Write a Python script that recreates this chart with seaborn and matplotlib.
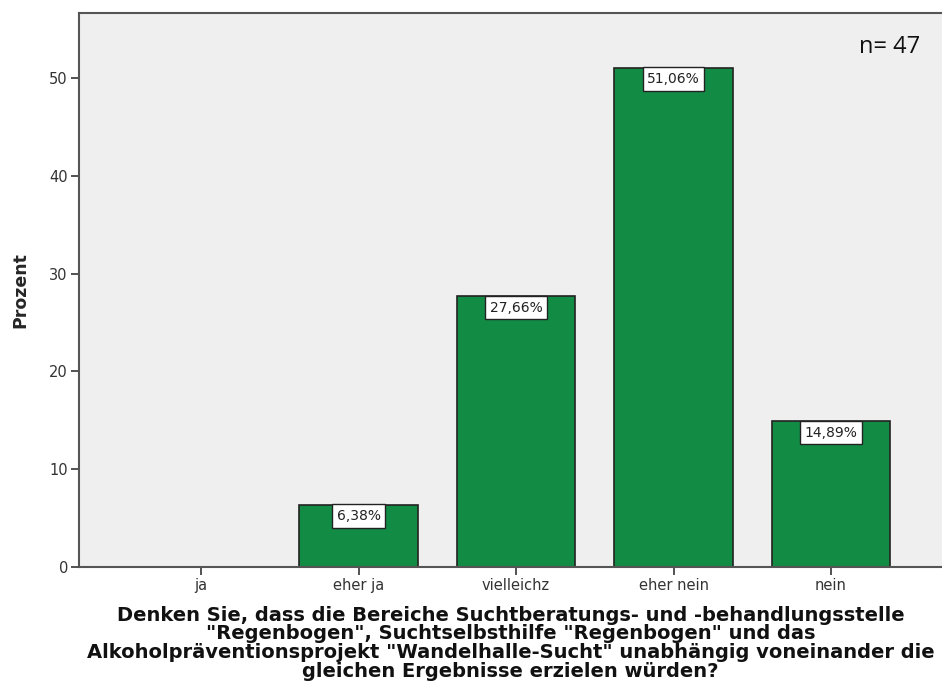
import matplotlib
matplotlib.use("Agg")
import matplotlib.pyplot as plt
import seaborn as sns
import pandas as pd

categories = ["ja", "eher ja", "vielleichz", "eher nein", "nein"]
prozent = [0, 6.38, 27.66, 51.06, 14.89]
labels = ["", "6,38%", "27,66%", "51,06%", "14,89%"]
n_text = "n= 47"
xlabel = ('Denken Sie, dass die Bereiche Suchtberatungs- und -behandlungsstelle\n'
          '"Regenbogen", Suchtselbsthilfe "Regenbogen" und das\n'
          'Alkoholpräventionsprojekt "Wandelhalle-Sucht" unabhängig voneinander die\n'
          'gleichen Ergebnisse erzielen würden?')

df = pd.DataFrame({"kategorie": categories, "prozent": prozent})

sns.set_style("white")
plt.rcParams['font.family'] = ['DejaVu Sans']

fig = plt.figure(figsize=(9.42, 6.91), dpi=100)
ax = fig.add_axes([0.0839, 0.1795, 0.9161, 0.801])
ax.set_facecolor("#efefef")

sns.barplot(data=df, x="kategorie", y="prozent", color="#128c45", width=0.75,
            edgecolor="#222222", linewidth=1.2, saturation=1, ax=ax)

# Wertebeschriftung oben im Balken
for i, (v, lab) in enumerate(zip(prozent, labels)):
    if lab:
        ax.text(i, v - 0.45, lab, ha="center", va="top", fontsize=10,
                color="#222222",
                bbox=dict(boxstyle="square,pad=0.33", fc="white", ec="#222222", lw=1.0))

ax.set_xlim(-0.775, 4.705)
ax.set_ylim(0, 56.6)
ax.set_yticks([0, 10, 20, 30, 40, 50])
ax.tick_params(axis="both", length=6, width=1.3, color="#444444", labelsize=10.5,
               labelcolor="#333333", left=True, bottom=True, direction="out", pad=2)
for side in ["left", "top", "bottom"]:
    ax.spines[side].set_color("#555555")
    ax.spines[side].set_linewidth(1.5)
ax.spines["right"].set_visible(False)

ax.set_ylabel("Prozent", fontsize=12.5, fontweight="bold", labelpad=14)
ax.set_xlabel(xlabel, fontsize=14, fontweight="bold", labelpad=9, linespacing=0.98,
              color="#111111")

ax.text(0.975, 0.962, n_text, transform=ax.transAxes, ha="right", va="top",
        fontsize=17, family=["Open Sans", "DejaVu Sans"], color="#111111")

plt.savefig("out.png", dpi=100)
